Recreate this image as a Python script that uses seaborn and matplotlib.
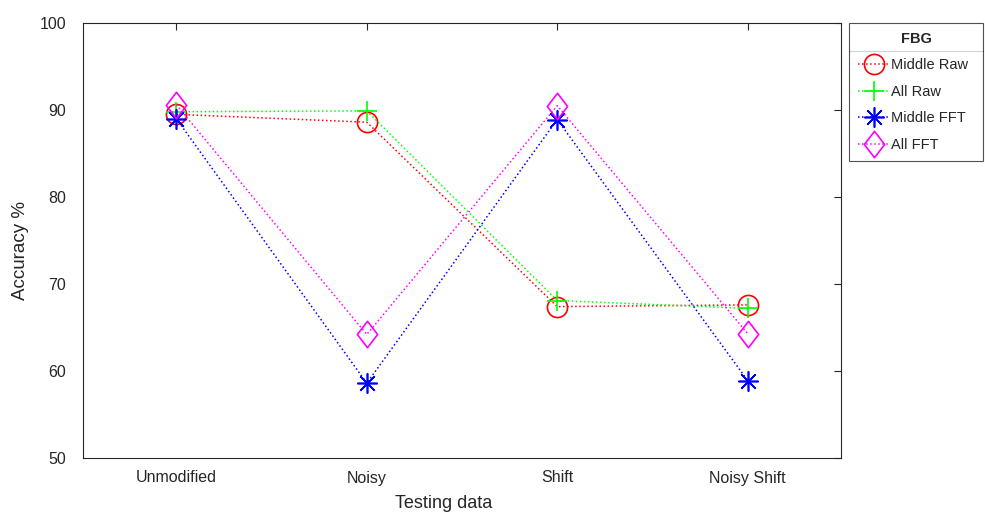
import matplotlib
matplotlib.use("Agg")
import matplotlib.pyplot as plt
import seaborn as sns
import pandas as pd
from matplotlib.lines import Line2D
from matplotlib.path import Path

categories = ["Unmodified", "Noisy", "Shift", "Noisy Shift"]
middle_raw = [89.5, 88.6, 67.4, 67.6]
all_raw = [89.8, 89.9, 68.1, 67.2]
middle_fft = [89.0, 58.6, 88.9, 58.9]
all_fft = [90.6, 64.2, 90.5, 64.3]

series_names = ["Middle Raw", "All Raw", "Middle FFT", "All FFT"]
series_values = [middle_raw, all_raw, middle_fft, all_fft]
colors = ["#ff0000", "#00ff00", "#0000ff", "#ff00ff"]
diamond = Path([(0, 1), (0.77, 0), (0, -1), (-0.77, 0), (0, 1)],
               [Path.MOVETO, Path.LINETO, Path.LINETO, Path.LINETO, Path.CLOSEPOLY])
markers = ["o", "+", (8, 2, 0), diamond]
msizes = [14.5, 15, 14.5, 19]

sns.set_theme(style="white")
plt.rcParams["font.family"] = ["Liberation Sans", "DejaVu Sans"]

fig = plt.figure(figsize=(9.85, 5.14), dpi=100)
ax = fig.add_axes([83 / 985, 1 - 458 / 514, (841 - 83) / 985, (458 - 23) / 514])

for name, vals, c, m, ms in zip(series_names, series_values, colors, markers, msizes):
    df = pd.DataFrame({"x": list(range(len(categories))), "y": vals})
    sns.lineplot(data=df, x="x", y="y", ax=ax, color=c, linestyle=":", linewidth=1.1,
                 marker=m, markersize=ms, markerfacecolor="none", markeredgecolor=c,
                 markeredgewidth=1.2, label=name, legend=False)

ax.set_xlim(-0.49, 3.49)
ax.set_ylim(50, 100)
ax.set_xticks(range(len(categories)))
ax.set_xticklabels(categories)
ax.set_yticks([50, 60, 70, 80, 90, 100])
ax.tick_params(direction="in", length=5, width=0.8, colors="#262626", labelsize=11.5,
               top=True, right=True, labelcolor="#262626")
ax.tick_params(axis="y", pad=12)
ax.tick_params(axis="x", pad=9)
for s in ax.spines.values():
    s.set_color("#262626")
    s.set_linewidth(0.8)
ax.set_xlabel("Testing data", fontsize=13, color="#262626")
ax.set_ylabel("Accuracy %", fontsize=13.5, color="#262626")
ax.xaxis.set_label_coords((444 - 83) / (841 - 83), -(512 - 458) / (458 - 23),
                          transform=ax.transAxes)
ax.yaxis.set_label_coords(-(83 - 12) / (841 - 83), (458 - 250) / (458 - 23))
ax.xaxis.label.set_va("bottom")
ax.yaxis.label.set_va("top")
ax.grid(False)

handles = [Line2D([0], [0], color=c, linestyle=":", linewidth=1.1, marker=m, markersize=ms,
                  markerfacecolor="none", markeredgecolor=c, markeredgewidth=1.2)
           for c, m, ms in zip(colors, markers, msizes)]
lx0, ly1, lx1 = 849 / 985, 1 - 23 / 514, 983 / 985
leg = fig.legend(handles, series_names, loc="upper left", mode="expand",
                 bbox_to_anchor=(lx0, ly1 - 0.3, lx1 - lx0, 0.3), bbox_transform=fig.transFigure,
                 title="FBG", title_fontproperties={"weight": "bold", "size": 10.5},
                 fontsize=10.5, frameon=True, fancybox=False, handlelength=2.2,
                 handletextpad=0.1, borderpad=0.6, labelspacing=0.86, borderaxespad=0)
leg.get_frame().set_edgecolor("#262626")
leg.get_frame().set_linewidth(0.8)

fig.canvas.draw()
r = fig.canvas.get_renderer()
fb = leg.get_frame().get_window_extent(r)
tb = leg.get_title().get_window_extent(r)
yline = tb.y0 - 5
inv = fig.transFigure.inverted()
(x0, y0), (x1, _) = inv.transform([(fb.x0, yline), (fb.x1, yline)])
fig.add_artist(Line2D([x0, x1], [y0, y0], transform=fig.transFigure, color="#262626", linewidth=0.8))

fig.savefig("out.png", dpi=100)
